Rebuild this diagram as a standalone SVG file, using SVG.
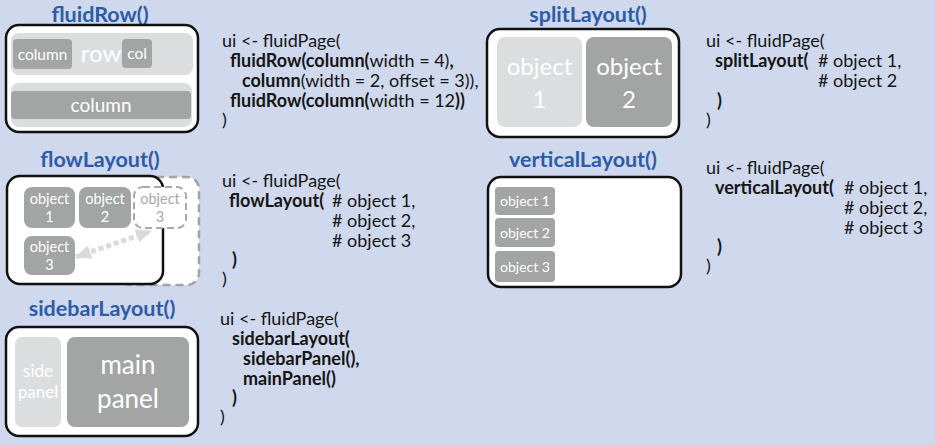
<svg xmlns="http://www.w3.org/2000/svg" width="935" height="445" viewBox="0 0 935 445">
<defs>
<style>
.title{font-family:Lato,"Source Sans Pro","Noto Sans",sans-serif;font-weight:bold;font-size:21.5px;fill:#2c5ca9;text-anchor:middle}
.frame{fill:#ffffff;stroke:#111111;stroke-width:2.5}
.light{fill:#dcdddf}
.dark{fill:#a2a5a3}
.lbl{font-family:Lato,"Source Sans Pro","Noto Sans",sans-serif;fill:#ffffff;text-anchor:middle}
.code{font-family:Lato,"Source Sans Pro","Noto Sans",sans-serif;font-size:18px;fill:#151515}
.b{font-weight:bold}
</style>
<marker id="ah" viewBox="0 0 16 14" markerWidth="16" markerHeight="14" refX="15" refY="7" orient="auto-start-reverse" markerUnits="userSpaceOnUse">
<path d="M0,0 L16,7 L0,14 z" fill="#d9dadc"/>
</marker>
</defs>
<rect width="935" height="445" fill="#cfd8ec"/>

<g id="fluidRow">
<text class="title" x="100" y="22">fluidRow()</text>
<rect class="frame" x="6" y="25" width="192" height="107" rx="13"/>
<rect class="light" x="11" y="33" width="182" height="42" rx="8"/>
<rect class="dark" x="13" y="39" width="59" height="30" rx="4"/>
<text class="lbl" x="42.5" y="60" font-size="15.5">column</text>
<text class="lbl" x="101" y="62" font-size="24">row</text>
<rect class="dark" x="122" y="39" width="30" height="29" rx="4"/>
<text class="lbl" x="137" y="59" font-size="15.5">col</text>
<rect class="light" x="11" y="83" width="181" height="44" rx="8"/>
<rect class="dark" x="11" y="91" width="180" height="28" rx="4"/>
<text class="lbl" x="101" y="112" font-size="19">column</text>
</g>

<g id="flowLayout">
<text class="title" x="100" y="167">flowLayout()</text>
<rect x="118" y="177" width="81" height="108" rx="12" fill="#ffffff" stroke="#a3a3a3" stroke-width="2.5" stroke-dasharray="8 5"/>
<rect class="frame" x="7" y="176" width="156" height="108" rx="13"/>
<rect class="dark" x="24" y="187" width="51" height="41" rx="8"/>
<text class="lbl" x="49.5" y="204" font-size="14.5">object</text>
<text class="lbl" x="49.5" y="222" font-size="14.5">1</text>
<rect class="dark" x="79" y="187" width="52" height="41" rx="8"/>
<text class="lbl" x="105" y="204" font-size="14.5">object</text>
<text class="lbl" x="105" y="222" font-size="14.5">2</text>
<rect x="134" y="187" width="52" height="41" rx="9" fill="#ffffff" stroke="#a8a8a8" stroke-width="2" stroke-dasharray="7 4"/>
<text class="lbl" x="160" y="204" font-size="14.5" style="fill:#a8a8a8">object</text>
<text class="lbl" x="160" y="222" font-size="14.5" style="fill:#a8a8a8">3</text>
<rect class="dark" x="24" y="236" width="51" height="39" rx="8"/>
<text class="lbl" x="49.5" y="252" font-size="14.5">object</text>
<text class="lbl" x="49.5" y="270" font-size="14.5">3</text>
</g>

<g id="connectors">
<path d="M76,257 L151,231" fill="none" stroke="#d9dadc" stroke-width="5" stroke-dasharray="5 3" marker-start="url(#ah)" marker-end="url(#ah)"/>
</g>

<g id="sidebarLayout">
<text class="title" x="102" y="316">sidebarLayout()</text>
<rect class="frame" x="6" y="327" width="192" height="109" rx="13"/>
<rect class="light" x="15" y="337" width="46" height="90" rx="7"/>
<text class="lbl" x="38" y="377" font-size="17">side</text>
<text class="lbl" x="38" y="398" font-size="17">panel</text>
<rect class="dark" x="67" y="337" width="122" height="90" rx="8"/>
<text class="lbl" x="128" y="374" font-size="26">main</text>
<text class="lbl" x="128" y="408" font-size="26">panel</text>
</g>

<g id="splitLayout">
<text class="title" x="588" y="22">splitLayout()</text>
<rect class="frame" x="487" y="29" width="192" height="108" rx="13"/>
<rect class="light" x="497" y="37" width="85" height="90" rx="8"/>
<text class="lbl" x="539.5" y="75" font-size="24">object</text>
<text class="lbl" x="539.5" y="108" font-size="24">1</text>
<rect class="dark" x="586" y="37" width="86" height="90" rx="8"/>
<text class="lbl" x="629" y="75" font-size="24">object</text>
<text class="lbl" x="629" y="108" font-size="24">2</text>
</g>

<g id="verticalLayout">
<text class="title" x="583" y="167">verticalLayout()</text>
<rect class="frame" x="488" y="177" width="193" height="110" rx="13"/>
<rect class="dark" x="495" y="187" width="60" height="28" rx="4"/>
<text class="lbl" x="525" y="206" font-size="14">object 1</text>
<rect class="dark" x="495" y="218" width="60" height="29" rx="4"/>
<text class="lbl" x="525" y="238" font-size="14">object 2</text>
<rect class="dark" x="495" y="251" width="60" height="31" rx="4"/>
<text class="lbl" x="525" y="272" font-size="14">object 3</text>
</g>

<g id="code-fluidRow" class="code">
<text x="222" y="47">ui &lt;- fluidPage(</text>
<text x="230" y="67"><tspan class="b">fluidRow(column(</tspan>width = 4)<tspan class="b">,</tspan></text>
<text x="242" y="87"><tspan class="b">column</tspan>(width = 2,  offset = 3)),</text>
<text x="230" y="107"><tspan class="b">fluidRow(column(</tspan>width = 12<tspan class="b">))</tspan></text>
<text x="222" y="126">)</text>
</g>

<g id="code-flowLayout" class="code">
<text x="222" y="187">ui &lt;- fluidPage(</text>
<text x="229" y="207"><tspan class="b">flowLayout(</tspan><tspan x="332"># object 1,</tspan></text>
<text x="332" y="227"># object 2,</text>
<text x="332" y="247"># object 3</text>
<text x="232" y="266" class="b">)</text>
<text x="222" y="285">)</text>
</g>

<g id="code-sidebarLayout" class="code">
<text x="220" y="325">ui &lt;- fluidPage(</text>
<text x="232" y="345" class="b">sidebarLayout(</text>
<text x="243" y="365" class="b">sidebarPanel(),</text>
<text x="243" y="385" class="b">mainPanel()</text>
<text x="232" y="404" class="b">)</text>
<text x="220" y="423">)</text>
</g>

<g id="code-splitLayout" class="code">
<text x="706" y="47">ui &lt;- fluidPage(</text>
<text x="715" y="67"><tspan class="b">splitLayout(</tspan><tspan x="818"># object 1,</tspan></text>
<text x="818" y="87"># object 2</text>
<text x="717" y="107" class="b">)</text>
<text x="706" y="126">)</text>
</g>

<g id="code-verticalLayout" class="code">
<text x="706" y="174">ui &lt;- fluidPage(</text>
<text x="715" y="194"><tspan class="b">verticalLayout(</tspan><tspan x="844"># object 1,</tspan></text>
<text x="844" y="214"># object 2,</text>
<text x="844" y="234"># object 3</text>
<text x="717" y="253" class="b">)</text>
<text x="706" y="272">)</text>
</g>
</svg>
